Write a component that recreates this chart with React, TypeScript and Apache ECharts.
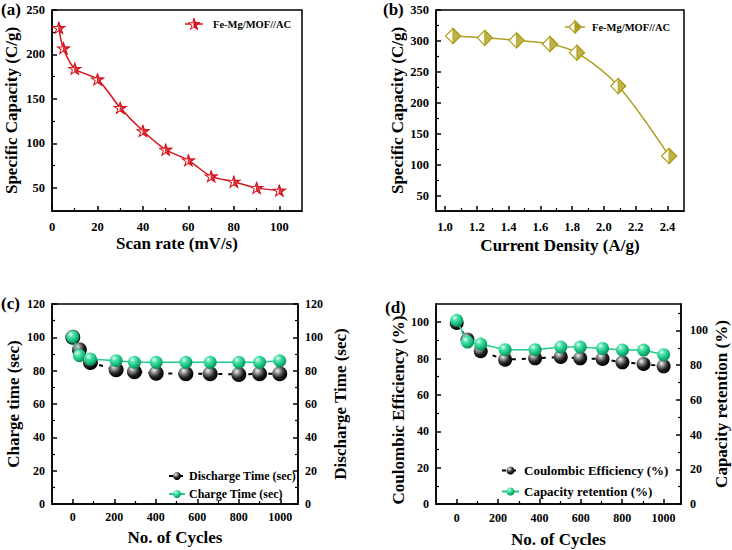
import React, { useEffect, useRef } from 'react';
import * as echarts from 'echarts';

// ---------- data ----------
const scanRate = [3, 5, 10, 20, 30, 40, 50, 60, 70, 80, 90, 100];
const capacityA = [230, 207, 184, 172, 140, 114, 93, 81, 63, 57, 50, 47];

const currentDensity = [1.05, 1.25, 1.45, 1.66, 1.83, 2.09, 2.41];
const capacityB = [308, 305, 301, 295, 281, 227, 114];

const cyclesC = [0, 32, 85, 209, 297, 402, 545, 662, 800, 900, 997];
const dischargeTime = [100, 92.5, 84.9, 80.5, 79.3, 78.5, 78.1, 78.1, 77.7, 78.1, 78.1];
const chargeTime = [100.2, 89, 87, 86, 85, 85, 85, 85, 85, 85, 85.9];

const cyclesD = [0, 52, 116, 234, 379, 503, 597, 705, 801, 903, 1000];
const coulombicEff = [99.6, 90.5, 84, 79.4, 80.1, 80.9, 80.1, 79.8, 77.9, 77, 75.7];
const capRetention = [105.8, 93.3, 92.1, 88.9, 88.9, 90.4, 90.4, 89.6, 88.7, 88.7, 86];

// tick labels / tick positions
const aXLabels = [0, 20, 40, 60, 80, 100];
const aXMinor = [10, 30, 50, 70, 90];
const aYLabels = [50, 100, 150, 200, 250];
const aYMinor = [75, 125, 175, 225];
const bXLabels = [1.0, 1.2, 1.4, 1.6, 1.8, 2.0, 2.2, 2.4];
const bXMinor = [1.1, 1.3, 1.5, 1.7, 1.9, 2.1, 2.3];
const bYLabels = [50, 100, 150, 200, 250, 300, 350];
const bYMinor = [75, 125, 175, 225, 275, 325];
const cycleLabels = [0, 200, 400, 600, 800, 1000];
const cycleMinor = [100, 300, 500, 700, 900];
const cYLabels = [0, 20, 40, 60, 80, 100, 120];
const cYMinor = [10, 30, 50, 70, 90, 110];
const dYLabels = [0, 20, 40, 60, 80, 100];
const dYMinorLeft = [10, 30, 50, 70, 90];
const dYMinorRight = [10, 30, 50, 70, 90, 110];

const legendName = 'Fe-Mg/MOF//AC';

const FONT = 'Liberation Serif';
const RED = '#d8121b';
const OLIVE = '#ae9f1c';
const GREEN = '#1fcc88';

// star template (box 0..100 x 0..90.45)
const STAR_PTS = [[50, 0], [61.17, 34.63], [97.55, 34.55], [68.07, 55.87], [79.39, 90.45], [50, 69], [20.61, 90.45], [31.93, 55.87], [2.45, 34.55], [38.83, 34.63]];
const STAR_RIGHT_PTS = STAR_PTS.slice(0, 6);
const toPath = (pts: number[][]) => 'M' + pts.map((p) => p[0] + ' ' + p[1]).join(' L') + ' Z';
const STAR_FULL = 'path://' + toPath(STAR_PTS);
const STAR_RIGHT = 'path://' + toPath(STAR_RIGHT_PTS) + ' M2.45 34.55 L2.45 34.55';
const DIA_PTS = [[10, 0], [20, 10], [10, 20], [0, 10]];
const DIA_RIGHT_PTS = [[10, 0], [20, 10], [10, 20]];
const DIA_FULL = 'path://' + toPath(DIA_PTS);
const DIA_RIGHT = 'path://' + toPath(DIA_RIGHT_PTS) + ' M0 10 L0 10';

const zip = (xs: number[], ys: number[]) => xs.map((x, i) => [x, ys[i]]);

function mainAxis(grid: number, position: string, min: number, max: number,
  ticks: number[], labels: number[], name: string, nameGap: number, margin: number, fontSize: number,
  fmt?: (v: number) => string) {
  return {
    type: 'value', gridIndex: grid, position, min, max,
    name, nameLocation: 'middle', nameGap,
    nameTextStyle: { fontFamily: FONT, fontWeight: 'bold', fontSize: 17, color: '#000' },
    axisLine: { show: true, onZero: false, lineStyle: { color: '#000', width: 1.5 } },
    axisTick: { show: true, inside: true, length: 5, customValues: ticks, lineStyle: { color: '#000', width: 1.5 } },
    axisLabel: {
      show: true, customValues: labels, margin, fontFamily: FONT, fontWeight: 'bold', fontSize, color: '#000',
      formatter: fmt || ((v: number) => String(v)),
    },
    splitLine: { show: false },
  };
}

function minorAxis(grid: number, position: string, min: number, max: number, ticks: number[]) {
  return {
    type: 'value', gridIndex: grid, position, min, max,
    axisLine: { show: false, onZero: false },
    axisTick: { show: true, inside: true, length: 3, customValues: ticks, lineStyle: { color: '#000', width: 1.2 } },
    axisLabel: { show: false },
    splitLine: { show: false },
  };
}

const sphere = (c0: string, c1: string, c2: string, c3: string) =>
  new echarts.graphic.RadialGradient(0.35, 0.3, 0.7, [
    { offset: 0, color: c0 },
    { offset: 0.3, color: c1 },
    { offset: 0.65, color: c2 },
    { offset: 1, color: c3 },
  ]);

function legendStar(cx: number, cy: number, s: number) {
  const map = (pts: number[][]) => pts.map((p) => [cx + (p[0] - 50) * s, cy + (p[1] - 45.2) * s]);
  return [
    { type: 'line', shape: { x1: cx - 9, y1: cy, x2: cx + 9, y2: cy }, style: { stroke: RED, lineWidth: 1.5 } },
    { type: 'polygon', shape: { points: map(STAR_PTS) }, style: { fill: '#fff', stroke: RED, lineWidth: 1 } },
    { type: 'polygon', shape: { points: map(STAR_RIGHT_PTS) }, style: { fill: RED, stroke: RED, lineWidth: 1 } },
  ];
}

function legendDiamond(cx: number, cy: number, h: number) {
  return [
    { type: 'line', shape: { x1: cx - 10, y1: cy, x2: cx + 10, y2: cy }, style: { stroke: OLIVE, lineWidth: 1.5 } },
    { type: 'polygon', shape: { points: [[cx, cy - h], [cx + h, cy], [cx, cy + h], [cx - h, cy]] }, style: { fill: '#fff', stroke: OLIVE, lineWidth: 1.2 } },
    { type: 'polygon', shape: { points: [[cx, cy - h], [cx + h, cy], [cx, cy + h]] }, style: { fill: OLIVE, stroke: OLIVE, lineWidth: 1.2 } },
  ];
}

export default function App() {
  const ref = useRef<HTMLDivElement>(null);
  useEffect(() => {
    if (!ref.current) return;
    const chart = echarts.init(ref.current, undefined, { renderer: 'svg' });
    const BLACK_GRAD = sphere('#f4f4f4', '#8a8a8a', '#222222', '#000000');
    const GREEN_GRAD = sphere('#eafff5', '#55e3ad', '#1cc783', '#0c8f5b');

    const grids = [
      { left: 52, top: 10, width: 250, height: 201 },
      { left: 436, top: 10, width: 248, height: 201 },
      { left: 52, top: 304, width: 246, height: 200 },
      { left: 436, top: 304, width: 245, height: 200 },
    ].map((g) => ({ ...g, show: true, borderColor: '#000', borderWidth: 1.5, backgroundColor: 'transparent', containLabel: false, outerBoundsMode: 'none' }));

    const xAxis = [
      mainAxis(0, 'bottom', 0, 110, aXLabels, aXLabels, 'Scan rate (mV/s)', 24, 9, 12.5),
      minorAxis(0, 'bottom', 0, 110, aXMinor),
      mainAxis(1, 'bottom', 0.943, 2.504, bXLabels, bXLabels, 'Current Density (A/g)', 26, 9, 12.5, (v) => v.toFixed(1)),
      minorAxis(1, 'bottom', 0.943, 2.504, bXMinor),
      mainAxis(2, 'bottom', -100, 1085, cycleLabels, cycleLabels, 'No. of Cycles', 25, 7, 12),
      minorAxis(2, 'bottom', -100, 1085, cycleMinor),
      mainAxis(3, 'bottom', -100, 1084, cycleLabels, cycleLabels, 'No. of Cycles', 27, 8, 12),
      minorAxis(3, 'bottom', -100, 1084, cycleMinor),
    ];
    const yAxis = [
      mainAxis(0, 'left', 24, 250, aYLabels, aYLabels, 'Specific Capacity (C/g)', 32, 7, 12.5),
      minorAxis(0, 'left', 24, 250, aYMinor),
      mainAxis(1, 'left', 25, 350, bYLabels, bYLabels, 'Specific Capacity (C/g)', 30, 7, 12.5),
      minorAxis(1, 'left', 25, 350, bYMinor),
      mainAxis(2, 'left', 0, 120, cYLabels, cYLabels, 'Charge time (sec)', 30, 7, 12),
      minorAxis(2, 'left', 0, 120, cYMinor),
      mainAxis(2, 'right', 0, 120, cYLabels, cYLabels, 'Discharge Time (sec)', 34, 7, 12),
      minorAxis(2, 'right', 0, 120, cYMinor),
      mainAxis(3, 'left', 0, 110, dYLabels, dYLabels, '', 30, 7, 12),
      minorAxis(3, 'left', 0, 110, dYMinorLeft),
      mainAxis(3, 'right', 0, 115.2, dYLabels, dYLabels, 'Capacity retention (%)', 32, 9, 12),
      minorAxis(3, 'right', 0, 115.2, dYMinorRight),
    ];

    const noEmph = { disabled: true };
    const series: any[] = [
      // (a)
      {
        type: 'line', name: legendName, xAxisIndex: 0, yAxisIndex: 0, data: zip(scanRate, capacityA),
        smooth: 0.3, symbol: STAR_FULL, symbolSize: [12, 11],
        lineStyle: { color: RED, width: 1.5 }, itemStyle: { color: '#fff', borderColor: RED, borderWidth: 1 }, emphasis: noEmph, z: 2,
      },
      {
        type: 'scatter', xAxisIndex: 0, yAxisIndex: 0, data: zip(scanRate, capacityA),
        symbol: STAR_RIGHT, symbolSize: [12, 11], itemStyle: { color: RED, borderColor: RED, borderWidth: 1 }, emphasis: noEmph, z: 4,
      },
      // (b)
      {
        type: 'line', name: legendName + ' (b)', xAxisIndex: 2, yAxisIndex: 2, data: zip(currentDensity, capacityB),
        smooth: 0.3, symbol: DIA_FULL, symbolSize: 15,
        lineStyle: { color: OLIVE, width: 1.5 }, itemStyle: { color: '#fff', borderColor: OLIVE, borderWidth: 1.2 }, emphasis: noEmph, z: 2,
      },
      {
        type: 'scatter', xAxisIndex: 2, yAxisIndex: 2, data: zip(currentDensity, capacityB),
        symbol: DIA_RIGHT, symbolSize: 15, itemStyle: { color: OLIVE, borderColor: OLIVE, borderWidth: 1.2 }, emphasis: noEmph, z: 4,
      },
      // (c)
      {
        type: 'line', name: 'Discharge Time (sec)', xAxisIndex: 4, yAxisIndex: 6, data: zip(cyclesC, dischargeTime),
        symbol: 'circle', symbolSize: 15, lineStyle: { color: '#000', width: 2, type: [4, 6] },
        itemStyle: { color: BLACK_GRAD, borderWidth: 0 }, emphasis: noEmph, z: 2,
      },
      {
        type: 'line', name: 'Charge Time (sec)', xAxisIndex: 4, yAxisIndex: 4, data: zip(cyclesC, chargeTime),
        symbol: 'circle', symbolSize: 13, lineStyle: { color: GREEN, width: 1.5 },
        itemStyle: { color: GREEN_GRAD, borderWidth: 0 }, emphasis: noEmph, z: 3,
      },
      // (d)
      {
        type: 'line', name: 'Coulombic Efficiency (%)', xAxisIndex: 6, yAxisIndex: 8, data: zip(cyclesD, coulombicEff),
        symbol: 'circle', symbolSize: 14, lineStyle: { color: '#000', width: 2, type: [4, 6] },
        itemStyle: { color: BLACK_GRAD, borderWidth: 0 }, emphasis: noEmph, z: 2,
      },
      {
        type: 'line', name: 'Capacity retention (%)', xAxisIndex: 6, yAxisIndex: 10, data: zip(cyclesD, capRetention),
        symbol: 'circle', symbolSize: 13, lineStyle: { color: GREEN, width: 1.5 },
        itemStyle: { color: GREEN_GRAD, borderWidth: 0 }, emphasis: noEmph, z: 3,
      },
    ];

    const legendBase = { orient: 'vertical', padding: 0, selectedMode: false };
    const legend = [
      {
        ...legendBase, data: ['Discharge Time (sec)', 'Charge Time (sec)'], left: 168, top: 470, itemWidth: 16, itemHeight: 10, itemGap: 6,
        textStyle: { fontFamily: FONT, fontWeight: 'bold', fontSize: 12, color: '#000', padding: [0, 0, 0, -1] },
      },
      {
        ...legendBase, data: ['Coulombic Efficiency (%)', 'Capacity retention (%)'], left: 501, top: 464, itemWidth: 17, itemHeight: 10, itemGap: 8,
        textStyle: { fontFamily: FONT, fontWeight: 'bold', fontSize: 13, color: '#000' },
      },
    ];

    const panelLabel = (text: string, left: number, top: number) => ({
      type: 'text', left, top,
      style: { text, fontFamily: FONT, fontWeight: 'bold', fontSize: 17, fill: '#000' },
    });
    const legendText = (x: number, y: number) => ({
      type: 'text', x, y,
      style: { text: legendName, fontFamily: FONT, fontWeight: 'bold', fontSize: 10.5, fill: '#000', verticalAlign: 'middle', align: 'left' },
    });

    chart.setOption({
      animation: false,
      backgroundColor: '#fff',
      textStyle: { fontFamily: FONT },
      grid: grids,
      xAxis,
      yAxis,
      legend,
      series,
      graphic: [
        panelLabel('(a)', 1, 1),
        panelLabel('(b)', 383, 1),
        panelLabel('(c)', 1, 295),
        panelLabel('(d)', 385, 299),
        {
          type: 'text', x: 398, y: 410, rotation: Math.PI / 2,
          style: { text: 'Coulombic Efficiency (%)', fontFamily: FONT, fontWeight: 'bold', fontSize: 17, fill: '#000', align: 'center', verticalAlign: 'middle' },
        },
        ...legendStar(194, 24, 0.12),
        legendText(213, 24.5),
        ...legendDiamond(575, 27, 6),
        legendText(592, 27.5),
      ],
    });
    return () => chart.dispose();
  }, []);
  return <div ref={ref} style={{ position: 'absolute', left: 0, top: 0, width: 732, height: 550 }} />;
}
